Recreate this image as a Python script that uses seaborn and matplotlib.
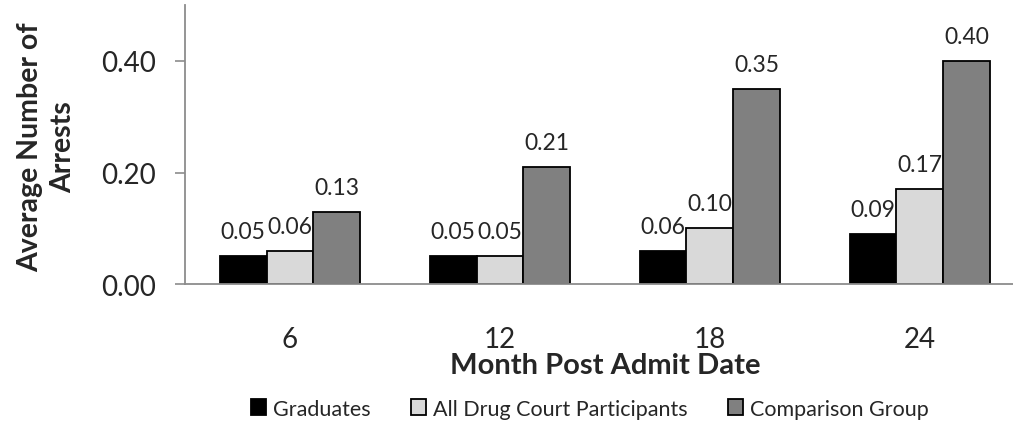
import matplotlib
matplotlib.use("Agg")
import matplotlib.pyplot as plt
import numpy as np
import pandas as pd
import seaborn as sns

# data
months = ['6', '12', '18', '24']
groups = ['Graduates', 'All Drug Court Participants', 'Comparison Group']
graduates = [0.05, 0.05, 0.06, 0.09]
participants = [0.06, 0.05, 0.10, 0.17]
comparison = [0.13, 0.21, 0.35, 0.40]
colors = ['#000000', '#D9D9D9', '#808080']

df = pd.DataFrame({
    'month': months * 3,
    'group': [groups[0]] * 4 + [groups[1]] * 4 + [groups[2]] * 4,
    'arrests': graduates + participants + comparison,
})

sns.set_style("white")
plt.rcParams['font.family'] = ['Lato', 'DejaVu Sans']

fig = plt.figure(figsize=(10.13, 4.27), dpi=100)
# axes run past the right edge of the figure, like the cropped original
ax = fig.add_axes([0.1826, 0.332, 0.829, 0.654])
sns.barplot(data=df, x='month', y='arrests', hue='group', order=months, hue_order=groups,
            palette=colors, width=0.667, gap=0, edgecolor='black', linewidth=1.3,
            errorbar=None, ax=ax)

for c in ax.containers:
    ax.bar_label(c, fmt='%.2f', padding=10, fontsize=16.5)

ax.set_ylim(0, 0.5)
ax.set_xlim(-0.5, 3.5)
ax.set_yticks([0, 0.2, 0.4])
ax.set_yticklabels(['0.00', '0.20', '0.40'], fontsize=20)
ax.tick_params(axis='x', labelsize=20, length=0, pad=30)
ax.tick_params(axis='y', left=True, length=7, width=1.2, color='#8C8C8C', pad=14)
for s in ['top', 'right']:
    ax.spines[s].set_visible(False)
for s in ['left', 'bottom']:
    ax.spines[s].set_color('#8C8C8C')
    ax.spines[s].set_linewidth(1.3)

ax.set_xlabel('Month Post Admit Date', fontsize=21, fontweight='bold', labelpad=0)
ax.set_ylabel('Average Number of\nArrests', fontsize=20.5, fontweight='bold', linespacing=1.3)
ax.yaxis.set_label_coords(-0.13, 0.495)

ax.legend(loc='center', bbox_to_anchor=(0.482, -0.445), ncol=3, frameon=False,
          fontsize=15.5, handlelength=0.7, handleheight=0.7, handletextpad=0.3,
          columnspacing=1.9)

fig.savefig('out.png', dpi=100)
